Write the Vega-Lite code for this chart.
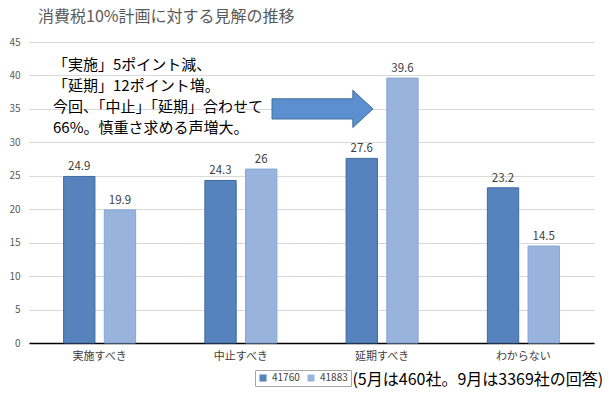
{
  "$schema": "https://vega.github.io/schema/vega-lite/v6.json",
  "width": 565,
  "height": 301,
  "autosize": {"type": "none"},
  "padding": {"left": 29, "top": 42, "right": 16, "bottom": 52},
  "title": {
    "text": "消費税10%計画に対する見解の推移",
    "anchor": "start",
    "frame": "group",
    "dx": 9,
    "offset": 12,
    "fontSize": 16,
    "fontWeight": "normal",
    "color": "#595959",
    "font": "Noto Sans CJK JP"
  },
  "resolve": {"scale": {"x": "independent"}},
  "layer": [
    {
      "data": {
        "values": [
          {"cat": "実施すべき", "series": "41760", "v": 24.9},
          {"cat": "実施すべき", "series": "41883", "v": 19.9},
          {"cat": "中止すべき", "series": "41760", "v": 24.3},
          {"cat": "中止すべき", "series": "41883", "v": 26},
          {"cat": "延期すべき", "series": "41760", "v": 27.6},
          {"cat": "延期すべき", "series": "41883", "v": 39.6},
          {"cat": "わからない", "series": "41760", "v": 23.2},
          {"cat": "わからない", "series": "41883", "v": 14.5}
        ]
      },
      "encoding": {
        "x": {
          "field": "cat",
          "type": "nominal",
          "sort": ["実施すべき", "中止すべき", "延期すべき", "わからない"],
          "scale": {"paddingInner": 0.49, "paddingOuter": 0.245},
          "axis": {
            "title": null,
            "labelAngle": 0,
            "labelFontSize": 11,
            "labelColor": "#404040",
            "labelFont": "Noto Sans CJK JP",
            "labelPadding": 7,
            "ticks": false,
            "domainColor": "#000000",
            "domainWidth": 1.5
          }
        },
        "xOffset": {
          "field": "series",
          "type": "nominal",
          "scale": {"paddingInner": 0.23, "paddingOuter": 0}
        },
        "y": {
          "field": "v",
          "type": "quantitative",
          "scale": {"domain": [0, 45], "nice": false},
          "axis": {"title": null, "values": [0, 5, 10, 15, 20, 25, 30, 35, 40, 45], "labelOverlap": false, "labelFontSize": 10, "labelColor": "#595959", "labelFont": "Noto Sans CJK JP", "labelPadding": 9, "ticks": false, "domain": false, "gridColor": "#d9d9d9", "gridWidth": 1.2}
        }
      },
      "layer": [
        {
          "mark": {"type": "bar", "strokeWidth": 1},
          "encoding": {
            "color": {
              "field": "series",
              "type": "nominal",
              "scale": {"domain": ["41760", "41883"], "range": ["#5683bd", "#98b4dc"]},
              "legend": {
                "title": null,
                "orient": "none",
                "legendX": 226,
                "legendY": 328,
                "direction": "horizontal",
                "symbolType": "square",
                "symbolSize": 50,
                "symbolStrokeWidth": 0,
                "labelFontSize": 10,
                "labelColor": "#404040",
                "labelFont": "Noto Sans CJK JP",
                "strokeColor": "#a6a6a6",
                "padding": 3,
                "columnPadding": 6
              }
            },
            "stroke": {
              "field": "series",
              "type": "nominal",
              "scale": {"domain": ["41760", "41883"], "range": ["#41699e", "#86a5d2"]},
              "legend": null
            }
          }
        },
        {
          "mark": {"type": "text", "baseline": "bottom", "dy": -4, "fontSize": 11.5, "fontWeight": "normal", "color": "#404040", "font": "Noto Sans CJK JP"},
          "encoding": {
            "text": {"field": "v", "type": "nominal"}
          }
        }
      ]
    },
    {
      "data": {"values": [{}]},
      "layer": [
        {
          "mark": {
            "type": "point",
            "shape": "M-1,-0.2L0.6,-0.2L0.6,-0.37L1,0L0.6,0.37L0.6,0.2L-1,0.2Z",
            "filled": true,
            "fill": "#5b8fd0",
            "stroke": "#41719c",
            "strokeWidth": 1,
            "opacity": 1,
            "size": 10201
          },
          "encoding": {
            "x": {"datum": 2.078, "type": "quantitative", "scale": {"domain": [0, 4], "nice": false, "zero": false}, "axis": null},
            "y": {"datum": 35, "type": "quantitative", "scale": {"domain": [0, 45], "nice": false},
              "axis": {"title": null, "values": [0, 5, 10, 15, 20, 25, 30, 35, 40, 45], "labelOverlap": false, "labelFontSize": 10, "labelColor": "#595959", "labelFont": "Noto Sans CJK JP", "labelPadding": 9, "ticks": false, "domain": false, "gridColor": "#d9d9d9", "gridWidth": 1.2}}
          }
        },
        {
          "mark": {
            "type": "text",
            "align": "left",
            "baseline": "alphabetic",
            "fontSize": 15,
            "fontWeight": "normal",
            "lineHeight": 21,
            "color": "#000000",
            "font": "Noto Sans CJK JP",
            "text": ["「実施」5ポイント減、", "「延期」12ポイント増。", "今回、「中止」「延期」合わせて", "66%。慎重さ求める声増大。"]
          },
          "encoding": {
            "x": {"datum": 0.17, "type": "quantitative", "scale": {"domain": [0, 4], "nice": false, "zero": false}, "axis": null},
            "y": {"datum": 40.8, "type": "quantitative", "scale": {"domain": [0, 45], "nice": false},
              "axis": {"title": null, "values": [0, 5, 10, 15, 20, 25, 30, 35, 40, 45], "labelOverlap": false, "labelFontSize": 10, "labelColor": "#595959", "labelFont": "Noto Sans CJK JP", "labelPadding": 9, "ticks": false, "domain": false, "gridColor": "#d9d9d9", "gridWidth": 1.2}}
          }
        },
        {
          "mark": {
            "type": "text",
            "align": "left",
            "baseline": "middle",
            "fontSize": 16,
            "fontWeight": "normal",
            "color": "#000000",
            "font": "Noto Sans CJK JP",
            "text": "(5月は460社。9月は3369社の回答)"
          },
          "encoding": {
            "x": {"datum": 2.29, "type": "quantitative", "scale": {"domain": [0, 4], "nice": false, "zero": false}, "axis": null},
            "y": {"datum": -5.6, "type": "quantitative", "scale": {"domain": [0, 45], "nice": false},
              "axis": {"title": null, "values": [0, 5, 10, 15, 20, 25, 30, 35, 40, 45], "labelOverlap": false, "labelFontSize": 10, "labelColor": "#595959", "labelFont": "Noto Sans CJK JP", "labelPadding": 9, "ticks": false, "domain": false, "gridColor": "#d9d9d9", "gridWidth": 1.2}}
          }
        }
      ]
    }
  ],
  "config": {
    "view": {"stroke": null},
    "font": "Noto Sans CJK JP"
  }
}
